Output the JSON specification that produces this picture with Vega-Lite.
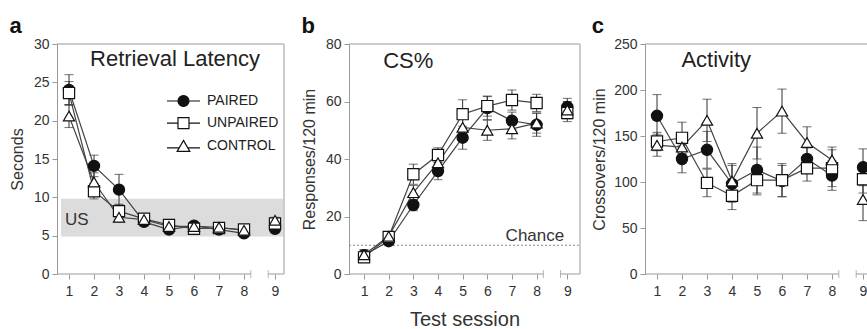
{
  "$schema": "https://vega.github.io/schema/vega-lite/v6.json",
  "padding": {"left": 9, "top": 15, "right": 0, "bottom": 0},
  "background": "white",
  "bounds": "flush",
  "spacing": 65,
  "config": {
    "font": "Liberation Sans",
    "view": {"stroke": null},
    "axis": {"grid": false, "domainColor": "#999", "tickColor": "#999", "labelColor": "#333", "titleColor": "#333", "labelFontSize": 14, "titleFontSize": 16, "titleFontWeight": "normal", "tickSize": 5, "labelOverlap": false, "tickCount": 20, "format": "d"},
    "title": {"fontSize": 22, "fontWeight": "bold", "anchor": "start", "frame": "bounds", "color": "#111", "offset": -1}
  },
  "datasets": {
    "groups": [{"group": "PAIRED"}, {"group": "UNPAIRED"}, {"group": "CONTROL"}],
    "latency": [
      {"session": 1, "group": "PAIRED", "mean": 24.0, "sem": 2.0},
      {"session": 2, "group": "PAIRED", "mean": 14.1, "sem": 1.4},
      {"session": 3, "group": "PAIRED", "mean": 11.0, "sem": 2.0},
      {"session": 4, "group": "PAIRED", "mean": 6.8, "sem": 0.5},
      {"session": 5, "group": "PAIRED", "mean": 5.8, "sem": 0.4},
      {"session": 6, "group": "PAIRED", "mean": 6.3, "sem": 0.4},
      {"session": 7, "group": "PAIRED", "mean": 5.8, "sem": 0.4},
      {"session": 8, "group": "PAIRED", "mean": 5.3, "sem": 0.4},
      {"session": 9, "group": "PAIRED", "mean": 5.9, "sem": 0.4},
      {"session": 1, "group": "UNPAIRED", "mean": 23.6, "sem": 1.5},
      {"session": 2, "group": "UNPAIRED", "mean": 10.8, "sem": 1.0},
      {"session": 3, "group": "UNPAIRED", "mean": 8.2, "sem": 0.9},
      {"session": 4, "group": "UNPAIRED", "mean": 7.2, "sem": 0.4},
      {"session": 5, "group": "UNPAIRED", "mean": 6.4, "sem": 0.3},
      {"session": 6, "group": "UNPAIRED", "mean": 5.9, "sem": 0.3},
      {"session": 7, "group": "UNPAIRED", "mean": 6.0, "sem": 0.3},
      {"session": 8, "group": "UNPAIRED", "mean": 5.8, "sem": 0.3},
      {"session": 9, "group": "UNPAIRED", "mean": 6.6, "sem": 0.4},
      {"session": 1, "group": "CONTROL", "mean": 20.6, "sem": 1.5},
      {"session": 2, "group": "CONTROL", "mean": 12.0, "sem": 1.2},
      {"session": 3, "group": "CONTROL", "mean": 7.4, "sem": 0.6},
      {"session": 4, "group": "CONTROL", "mean": 7.1, "sem": 0.4},
      {"session": 5, "group": "CONTROL", "mean": 6.2, "sem": 0.3},
      {"session": 6, "group": "CONTROL", "mean": 6.2, "sem": 0.3},
      {"session": 7, "group": "CONTROL", "mean": 6.1, "sem": 0.3},
      {"session": 8, "group": "CONTROL", "mean": 5.7, "sem": 0.3},
      {"session": 9, "group": "CONTROL", "mean": 7.0, "sem": 0.4}
    ],
    "cs": [
      {"session": 1, "group": "PAIRED", "mean": 6.5, "sem": 2.0},
      {"session": 2, "group": "PAIRED", "mean": 11.4, "sem": 1.0},
      {"session": 3, "group": "PAIRED", "mean": 24.0, "sem": 2.0},
      {"session": 4, "group": "PAIRED", "mean": 35.8, "sem": 3.0},
      {"session": 5, "group": "PAIRED", "mean": 47.4, "sem": 4.0},
      {"session": 6, "group": "PAIRED", "mean": 57.7, "sem": 4.0},
      {"session": 7, "group": "PAIRED", "mean": 53.3, "sem": 3.0},
      {"session": 8, "group": "PAIRED", "mean": 51.9, "sem": 4.0},
      {"session": 9, "group": "PAIRED", "mean": 58.1, "sem": 3.0},
      {"session": 1, "group": "UNPAIRED", "mean": 5.8, "sem": 1.5},
      {"session": 2, "group": "UNPAIRED", "mean": 12.9, "sem": 1.0},
      {"session": 3, "group": "UNPAIRED", "mean": 34.7, "sem": 3.5},
      {"session": 4, "group": "UNPAIRED", "mean": 41.4, "sem": 2.5},
      {"session": 5, "group": "UNPAIRED", "mean": 55.6, "sem": 5.0},
      {"session": 6, "group": "UNPAIRED", "mean": 58.4, "sem": 3.5},
      {"session": 7, "group": "UNPAIRED", "mean": 60.5, "sem": 3.5},
      {"session": 8, "group": "UNPAIRED", "mean": 59.5, "sem": 3.0},
      {"session": 9, "group": "UNPAIRED", "mean": 56.0, "sem": 3.0},
      {"session": 1, "group": "CONTROL", "mean": 6.7, "sem": 1.5},
      {"session": 2, "group": "CONTROL", "mean": 13.1, "sem": 1.0},
      {"session": 3, "group": "CONTROL", "mean": 28.3, "sem": 2.5},
      {"session": 4, "group": "CONTROL", "mean": 38.7, "sem": 2.5},
      {"session": 5, "group": "CONTROL", "mean": 51.0, "sem": 3.0},
      {"session": 6, "group": "CONTROL", "mean": 50.0, "sem": 3.5},
      {"session": 7, "group": "CONTROL", "mean": 50.5, "sem": 3.5},
      {"session": 8, "group": "CONTROL", "mean": 52.5, "sem": 3.5},
      {"session": 9, "group": "CONTROL", "mean": 57.0, "sem": 3.0}
    ],
    "activity": [
      {"session": 1, "group": "PAIRED", "mean": 172, "sem": 23},
      {"session": 2, "group": "PAIRED", "mean": 125, "sem": 15},
      {"session": 3, "group": "PAIRED", "mean": 135, "sem": 20},
      {"session": 4, "group": "PAIRED", "mean": 98, "sem": 20},
      {"session": 5, "group": "PAIRED", "mean": 113, "sem": 25},
      {"session": 6, "group": "PAIRED", "mean": 101, "sem": 17},
      {"session": 7, "group": "PAIRED", "mean": 125, "sem": 12},
      {"session": 8, "group": "PAIRED", "mean": 107, "sem": 16},
      {"session": 9, "group": "PAIRED", "mean": 116, "sem": 20},
      {"session": 1, "group": "UNPAIRED", "mean": 144, "sem": 10},
      {"session": 2, "group": "UNPAIRED", "mean": 148, "sem": 17},
      {"session": 3, "group": "UNPAIRED", "mean": 99, "sem": 15},
      {"session": 4, "group": "UNPAIRED", "mean": 85, "sem": 15},
      {"session": 5, "group": "UNPAIRED", "mean": 102, "sem": 16},
      {"session": 6, "group": "UNPAIRED", "mean": 102, "sem": 18},
      {"session": 7, "group": "UNPAIRED", "mean": 115, "sem": 14},
      {"session": 8, "group": "UNPAIRED", "mean": 115, "sem": 20},
      {"session": 9, "group": "UNPAIRED", "mean": 103, "sem": 15},
      {"session": 1, "group": "CONTROL", "mean": 140, "sem": 12},
      {"session": 2, "group": "CONTROL", "mean": 138, "sem": 8},
      {"session": 3, "group": "CONTROL", "mean": 167, "sem": 23},
      {"session": 4, "group": "CONTROL", "mean": 101, "sem": 19},
      {"session": 5, "group": "CONTROL", "mean": 153, "sem": 28},
      {"session": 6, "group": "CONTROL", "mean": 177, "sem": 24},
      {"session": 7, "group": "CONTROL", "mean": 143, "sem": 17},
      {"session": 8, "group": "CONTROL", "mean": 124, "sem": 14},
      {"session": 9, "group": "CONTROL", "mean": 81, "sem": 23}
    ]
  },
  "hconcat": [
    {
      "width": 227, "height": 230,
      "title": {"text": "a"},
      "data": {"name": "latency"},
      "resolve": {"scale": {"shape": "independent", "fill": "independent"}},
      "layer": [
        {"data": {"values": [{}]}, "mark": {"type": "rect", "color": "#dcdcdc"},
         "encoding": {"x": {"datum": 0.68, "type": "quantitative", "scale": {"domain": [0.52, 8, 9, 9.36], "range": [0, 187, 218, 227], "nice": false, "zero": false}},
                      "x2": {"datum": 9.32},
                      "y": {"datum": 4.9, "type": "quantitative", "scale": {"domain": [0, 30], "nice": false, "zero": false}},
                      "y2": {"datum": 9.8}}},
        {"data": {"values": [{}]}, "mark": {"type": "rule", "color": "#999", "strokeWidth": 1},
         "encoding": {"x": {"datum": 0.52, "type": "quantitative", "scale": {"domain": [0.52, 8, 9, 9.36], "range": [0, 187, 218, 227], "nice": false, "zero": false}},
                      "x2": {"datum": 9.36},
                      "y": {"datum": 30, "type": "quantitative", "scale": {"domain": [0, 30], "nice": false, "zero": false}}}},
        {"data": {"values": [{}]}, "mark": {"type": "rule", "color": "#999", "strokeWidth": 1},
         "encoding": {"x": {"datum": 9.36, "type": "quantitative", "scale": {"domain": [0.52, 8, 9, 9.36], "range": [0, 187, 218, 227], "nice": false, "zero": false}},
                      "y": {"datum": 0, "type": "quantitative", "scale": {"domain": [0, 30], "nice": false, "zero": false}},
                      "y2": {"datum": 30}}},
        {"data": {"values": [{}]}, "mark": {"type": "rule", "color": "#999", "strokeWidth": 1},
         "encoding": {"x": {"datum": 0.52, "type": "quantitative", "scale": {"domain": [0.52, 8, 9, 9.36], "range": [0, 187, 218, 227], "nice": false, "zero": false}},
                      "x2": {"datum": 8.22},
                      "y": {"datum": 0, "type": "quantitative", "scale": {"domain": [0, 30], "nice": false, "zero": false}}}},
        {"data": {"values": [{}]}, "mark": {"type": "rule", "color": "#999", "strokeWidth": 1},
         "encoding": {"x": {"datum": 8.78, "type": "quantitative", "scale": {"domain": [0.52, 8, 9, 9.36], "range": [0, 187, 218, 227], "nice": false, "zero": false}},
                      "x2": {"datum": 9.36},
                      "y": {"datum": 0, "type": "quantitative", "scale": {"domain": [0, 30], "nice": false, "zero": false}}}},
        {"data": {"values": [{}]}, "mark": {"type": "tick", "orient": "vertical", "size": 8, "thickness": 1, "color": "#999"},
         "encoding": {"x": {"datum": 8.22, "type": "quantitative", "scale": {"domain": [0.52, 8, 9, 9.36], "range": [0, 187, 218, 227], "nice": false, "zero": false}},
                      "y": {"datum": 0, "type": "quantitative", "scale": {"domain": [0, 30], "nice": false, "zero": false}}}},
        {"data": {"values": [{}]}, "mark": {"type": "tick", "orient": "vertical", "size": 8, "thickness": 1, "color": "#999"},
         "encoding": {"x": {"datum": 8.78, "type": "quantitative", "scale": {"domain": [0.52, 8, 9, 9.36], "range": [0, 187, 218, 227], "nice": false, "zero": false}},
                      "y": {"datum": 0, "type": "quantitative", "scale": {"domain": [0, 30], "nice": false, "zero": false}}}},
        {"mark": {"type": "errorbar", "ticks": {"size": 9}, "color": "#333"},
         "encoding": {"x": {"field": "session", "type": "quantitative", "title": null, "scale": {"domain": [0.52, 8, 9, 9.36], "range": [0, 187, 218, 227], "nice": false, "zero": false}},
                      "y": {"field": "mean", "type": "quantitative", "title": "Seconds", "scale": {"domain": [0, 30], "nice": false, "zero": false}},
                      "yError": {"field": "sem"}, "detail": {"field": "group"}}},
        {"transform": [{"filter": "datum.session <= 8"}],
         "mark": {"type": "line", "color": "#444", "strokeWidth": 1.2},
         "encoding": {"x": {"field": "session", "type": "quantitative", "title": null, "scale": {"domain": [0.52, 8, 9, 9.36], "range": [0, 187, 218, 227], "nice": false, "zero": false}},
                      "y": {"field": "mean", "type": "quantitative", "title": "Seconds", "scale": {"domain": [0, 30], "nice": false, "zero": false}},
                      "detail": {"field": "group"}}},
        {"mark": {"type": "point", "filled": true, "size": 125, "stroke": "#111", "strokeWidth": 1.2, "opacity": 1},
         "encoding": {"x": {"field": "session", "type": "quantitative", "title": null, "scale": {"domain": [0.52, 8, 9, 9.36], "range": [0, 187, 218, 227], "nice": false, "zero": false},
                            "axis": {"values": [1, 2, 3, 4, 5, 6, 7, 8, 9], "tickCount": 20, "format": "d", "domain": false, "labelPadding": 5, "labelFontSize": 14, "labelOverlap": false, "labelBound": false, "labelFlush": false}},
                      "y": {"field": "mean", "type": "quantitative", "title": "Seconds", "scale": {"domain": [0, 30], "nice": false, "zero": false},
                            "axis": {"values": [0, 5, 10, 15, 20, 25, 30], "tickCount": 20, "format": "d", "titlePadding": 8, "labelPadding": 3}},
                      "shape": {"field": "group", "type": "nominal", "scale": {"domain": ["PAIRED", "UNPAIRED", "CONTROL"], "range": ["circle", "square", "triangle-up"]}, "legend": null},
                      "fill": {"field": "group", "type": "nominal", "scale": {"domain": ["PAIRED", "UNPAIRED", "CONTROL"], "range": ["#111", "#fff", "#fff"]}, "legend": null}}},
        {"data": {"values": [{}]}, "mark": {"type": "text", "fontSize": 22, "align": "center", "baseline": "alphabetic", "color": "#222"},
         "encoding": {"x": {"datum": 5.24, "type": "quantitative", "scale": {"domain": [0.52, 8, 9, 9.36], "range": [0, 187, 218, 227], "nice": false, "zero": false}},
                      "y": {"datum": 27.1, "type": "quantitative", "scale": {"domain": [0, 30], "nice": false, "zero": false}},
                      "text": {"value": "Retrieval Latency"}}},
        {"data": {"values": [{}]}, "mark": {"type": "text", "fontSize": 17, "align": "left", "baseline": "alphabetic", "color": "#333"},
         "encoding": {"x": {"datum": 0.84, "type": "quantitative", "scale": {"domain": [0.52, 8, 9, 9.36], "range": [0, 187, 218, 227], "nice": false, "zero": false}},
                      "y": {"datum": 6.4, "type": "quantitative", "scale": {"domain": [0, 30], "nice": false, "zero": false}},
                      "text": {"value": "US"}}},
        {"data": {"name": "groups"}, "transform": [{"filter": "false"}],
         "mark": {"type": "point", "filled": true},
         "encoding": {
           "shape": {"field": "group", "type": "nominal",
                     "scale": {"domain": ["PAIRED", "UNPAIRED", "CONTROL"], "range": [
                       "M-3,0L-1,0M1,0L3,0M-1,0A1,1,0,1,1,1,0A1,1,0,1,1,-1,0Z",
                       "M-3,0L-1,0M1,0L3,0M-1,-1L1,-1L1,1L-1,1Z",
                       "M-3,0.25L-0.8,0.25M0.8,0.25L3,0.25M0,-1.1L1.15,0.9L-1.15,0.9Z"]},
                     "legend": {"orient": "none", "legendX": 119.5, "legendY": 50, "title": null, "symbolSize": 121, "labelFontSize": 14, "labelColor": "#222", "labelOffset": 16.5, "rowPadding": 6.2, "padding": 0, "symbolOpacity": 1,
                                "encode": {"symbols": {"update": {"stroke": {"value": "#111"}, "strokeWidth": {"value": 1.2}, "opacity": {"value": 1}}}}}},
           "fill": {"field": "group", "type": "nominal",
                    "scale": {"domain": ["PAIRED", "UNPAIRED", "CONTROL"], "range": ["#111", "#fff", "#fff"]},
                    "legend": {"orient": "none", "legendX": 119.5, "legendY": 50, "title": null, "symbolSize": 121, "labelFontSize": 14, "labelColor": "#222", "labelOffset": 16.5, "rowPadding": 6.2, "padding": 0, "symbolOpacity": 1,
                               "encode": {"symbols": {"update": {"stroke": {"value": "#111"}, "strokeWidth": {"value": 1.2}, "opacity": {"value": 1}}}}}}}}
      ]
    },
    {
      "width": 231, "height": 230,
      "title": {"text": "b"},
      "data": {"name": "cs"},
      "layer": [
        {"data": {"values": [{}]}, "mark": {"type": "rule", "color": "#888", "strokeWidth": 1, "strokeDash": [2, 2]},
         "encoding": {"x": {"datum": 0.39, "type": "quantitative", "scale": {"domain": [0.39, 8, 9, 9.51], "range": [0, 187.6, 218.3, 231], "nice": false, "zero": false}},
                      "x2": {"datum": 9.51},
                      "y": {"datum": 10, "type": "quantitative", "scale": {"domain": [0, 80], "nice": false, "zero": false}}}},
        {"data": {"values": [{}]}, "mark": {"type": "rule", "color": "#999", "strokeWidth": 1},
         "encoding": {"x": {"datum": 0.39, "type": "quantitative", "scale": {"domain": [0.39, 8, 9, 9.51], "range": [0, 187.6, 218.3, 231], "nice": false, "zero": false}},
                      "x2": {"datum": 9.51},
                      "y": {"datum": 80, "type": "quantitative", "scale": {"domain": [0, 80], "nice": false, "zero": false}}}},
        {"data": {"values": [{}]}, "mark": {"type": "rule", "color": "#999", "strokeWidth": 1},
         "encoding": {"x": {"datum": 9.51, "type": "quantitative", "scale": {"domain": [0.39, 8, 9, 9.51], "range": [0, 187.6, 218.3, 231], "nice": false, "zero": false}},
                      "y": {"datum": 0, "type": "quantitative", "scale": {"domain": [0, 80], "nice": false, "zero": false}},
                      "y2": {"datum": 80}}},
        {"data": {"values": [{}]}, "mark": {"type": "rule", "color": "#999", "strokeWidth": 1},
         "encoding": {"x": {"datum": 0.39, "type": "quantitative", "scale": {"domain": [0.39, 8, 9, 9.51], "range": [0, 187.6, 218.3, 231], "nice": false, "zero": false}},
                      "x2": {"datum": 8.22},
                      "y": {"datum": 0, "type": "quantitative", "scale": {"domain": [0, 80], "nice": false, "zero": false}}}},
        {"data": {"values": [{}]}, "mark": {"type": "rule", "color": "#999", "strokeWidth": 1},
         "encoding": {"x": {"datum": 8.78, "type": "quantitative", "scale": {"domain": [0.39, 8, 9, 9.51], "range": [0, 187.6, 218.3, 231], "nice": false, "zero": false}},
                      "x2": {"datum": 9.51},
                      "y": {"datum": 0, "type": "quantitative", "scale": {"domain": [0, 80], "nice": false, "zero": false}}}},
        {"data": {"values": [{}]}, "mark": {"type": "tick", "orient": "vertical", "size": 8, "thickness": 1, "color": "#999"},
         "encoding": {"x": {"datum": 8.22, "type": "quantitative", "scale": {"domain": [0.39, 8, 9, 9.51], "range": [0, 187.6, 218.3, 231], "nice": false, "zero": false}},
                      "y": {"datum": 0, "type": "quantitative", "scale": {"domain": [0, 80], "nice": false, "zero": false}}}},
        {"data": {"values": [{}]}, "mark": {"type": "tick", "orient": "vertical", "size": 8, "thickness": 1, "color": "#999"},
         "encoding": {"x": {"datum": 8.78, "type": "quantitative", "scale": {"domain": [0.39, 8, 9, 9.51], "range": [0, 187.6, 218.3, 231], "nice": false, "zero": false}},
                      "y": {"datum": 0, "type": "quantitative", "scale": {"domain": [0, 80], "nice": false, "zero": false}}}},
        {"mark": {"type": "errorbar", "ticks": {"size": 9}, "color": "#333"},
         "encoding": {"x": {"field": "session", "type": "quantitative", "title": "Test session", "scale": {"domain": [0.39, 8, 9, 9.51], "range": [0, 187.6, 218.3, 231], "nice": false, "zero": false}},
                      "y": {"field": "mean", "type": "quantitative", "title": "Responses/120 min", "scale": {"domain": [0, 80], "nice": false, "zero": false}},
                      "yError": {"field": "sem"}, "detail": {"field": "group"}}},
        {"transform": [{"filter": "datum.session <= 8"}],
         "mark": {"type": "line", "color": "#444", "strokeWidth": 1.2},
         "encoding": {"x": {"field": "session", "type": "quantitative", "title": "Test session", "scale": {"domain": [0.39, 8, 9, 9.51], "range": [0, 187.6, 218.3, 231], "nice": false, "zero": false}},
                      "y": {"field": "mean", "type": "quantitative", "title": "Responses/120 min", "scale": {"domain": [0, 80], "nice": false, "zero": false}},
                      "detail": {"field": "group"}}},
        {"mark": {"type": "point", "filled": true, "size": 125, "stroke": "#111", "strokeWidth": 1.2, "opacity": 1},
         "encoding": {"x": {"field": "session", "type": "quantitative", "title": "Test session", "scale": {"domain": [0.39, 8, 9, 9.51], "range": [0, 187.6, 218.3, 231], "nice": false, "zero": false},
                            "axis": {"values": [1, 2, 3, 4, 5, 6, 7, 8, 9], "tickCount": 20, "format": "d", "domain": false, "labelPadding": 5, "labelFontSize": 14, "labelOverlap": false, "labelBound": false, "labelFlush": false, "titleFontSize": 20, "titlePadding": 11}},
                      "y": {"field": "mean", "type": "quantitative", "title": "Responses/120 min", "scale": {"domain": [0, 80], "nice": false, "zero": false},
                            "axis": {"values": [0, 20, 40, 60, 80], "tickCount": 20, "format": "d", "titlePadding": 8, "labelPadding": 3}},
                      "shape": {"field": "group", "type": "nominal", "scale": {"domain": ["PAIRED", "UNPAIRED", "CONTROL"], "range": ["circle", "square", "triangle-up"]}, "legend": null},
                      "fill": {"field": "group", "type": "nominal", "scale": {"domain": ["PAIRED", "UNPAIRED", "CONTROL"], "range": ["#111", "#fff", "#fff"]}, "legend": null}}},
        {"data": {"values": [{}]}, "mark": {"type": "text", "fontSize": 22, "align": "center", "baseline": "alphabetic", "color": "#222"},
         "encoding": {"x": {"datum": 2.795, "type": "quantitative", "scale": {"domain": [0.39, 8, 9, 9.51], "range": [0, 187.6, 218.3, 231], "nice": false, "zero": false}},
                      "y": {"datum": 71.8, "type": "quantitative", "scale": {"domain": [0, 80], "nice": false, "zero": false}},
                      "text": {"value": "CS%"}}},
        {"data": {"values": [{}]}, "mark": {"type": "text", "fontSize": 17, "align": "right", "baseline": "alphabetic", "color": "#333"},
         "encoding": {"x": {"datum": 8.9, "type": "quantitative", "scale": {"domain": [0.39, 8, 9, 9.51], "range": [0, 187.6, 218.3, 231], "nice": false, "zero": false}},
                      "y": {"datum": 11.5, "type": "quantitative", "scale": {"domain": [0, 80], "nice": false, "zero": false}},
                      "text": {"value": "Chance"}}}
      ]
    },
    {
      "width": 227, "height": 230,
      "title": {"text": "c"},
      "data": {"name": "activity"},
      "layer": [
        {"data": {"values": [{}]}, "mark": {"type": "rule", "color": "#999", "strokeWidth": 1},
         "encoding": {"x": {"datum": 0.52, "type": "quantitative", "scale": {"domain": [0.52, 8, 9, 9.36], "range": [0, 187, 218, 227], "nice": false, "zero": false}},
                      "x2": {"datum": 9.36},
                      "y": {"datum": 250, "type": "quantitative", "scale": {"domain": [0, 250], "nice": false, "zero": false}}}},
        {"data": {"values": [{}]}, "mark": {"type": "rule", "color": "#999", "strokeWidth": 1},
         "encoding": {"x": {"datum": 0.52, "type": "quantitative", "scale": {"domain": [0.52, 8, 9, 9.36], "range": [0, 187, 218, 227], "nice": false, "zero": false}},
                      "x2": {"datum": 8.22},
                      "y": {"datum": 0, "type": "quantitative", "scale": {"domain": [0, 250], "nice": false, "zero": false}}}},
        {"data": {"values": [{}]}, "mark": {"type": "rule", "color": "#999", "strokeWidth": 1},
         "encoding": {"x": {"datum": 8.78, "type": "quantitative", "scale": {"domain": [0.52, 8, 9, 9.36], "range": [0, 187, 218, 227], "nice": false, "zero": false}},
                      "x2": {"datum": 9.36},
                      "y": {"datum": 0, "type": "quantitative", "scale": {"domain": [0, 250], "nice": false, "zero": false}}}},
        {"data": {"values": [{}]}, "mark": {"type": "tick", "orient": "vertical", "size": 8, "thickness": 1, "color": "#999"},
         "encoding": {"x": {"datum": 8.22, "type": "quantitative", "scale": {"domain": [0.52, 8, 9, 9.36], "range": [0, 187, 218, 227], "nice": false, "zero": false}},
                      "y": {"datum": 0, "type": "quantitative", "scale": {"domain": [0, 250], "nice": false, "zero": false}}}},
        {"data": {"values": [{}]}, "mark": {"type": "tick", "orient": "vertical", "size": 8, "thickness": 1, "color": "#999"},
         "encoding": {"x": {"datum": 8.78, "type": "quantitative", "scale": {"domain": [0.52, 8, 9, 9.36], "range": [0, 187, 218, 227], "nice": false, "zero": false}},
                      "y": {"datum": 0, "type": "quantitative", "scale": {"domain": [0, 250], "nice": false, "zero": false}}}},
        {"mark": {"type": "errorbar", "ticks": {"size": 9}, "color": "#333"},
         "encoding": {"x": {"field": "session", "type": "quantitative", "title": null, "scale": {"domain": [0.52, 8, 9, 9.36], "range": [0, 187, 218, 227], "nice": false, "zero": false}},
                      "y": {"field": "mean", "type": "quantitative", "title": "Crossovers/120 min", "scale": {"domain": [0, 250], "nice": false, "zero": false}},
                      "yError": {"field": "sem"}, "detail": {"field": "group"}}},
        {"transform": [{"filter": "datum.session <= 8"}],
         "mark": {"type": "line", "color": "#444", "strokeWidth": 1.2},
         "encoding": {"x": {"field": "session", "type": "quantitative", "title": null, "scale": {"domain": [0.52, 8, 9, 9.36], "range": [0, 187, 218, 227], "nice": false, "zero": false}},
                      "y": {"field": "mean", "type": "quantitative", "title": "Crossovers/120 min", "scale": {"domain": [0, 250], "nice": false, "zero": false}},
                      "detail": {"field": "group"}}},
        {"mark": {"type": "point", "filled": true, "size": 125, "stroke": "#111", "strokeWidth": 1.2, "opacity": 1},
         "encoding": {"x": {"field": "session", "type": "quantitative", "title": null, "scale": {"domain": [0.52, 8, 9, 9.36], "range": [0, 187, 218, 227], "nice": false, "zero": false},
                            "axis": {"values": [1, 2, 3, 4, 5, 6, 7, 8, 9], "tickCount": 20, "format": "d", "domain": false, "labelPadding": 5, "labelFontSize": 14, "labelOverlap": false, "labelBound": false, "labelFlush": false}},
                      "y": {"field": "mean", "type": "quantitative", "title": "Crossovers/120 min", "scale": {"domain": [0, 250], "nice": false, "zero": false},
                            "axis": {"values": [0, 50, 100, 150, 200, 250], "tickCount": 20, "format": "d", "titlePadding": 6, "labelPadding": 3}},
                      "shape": {"field": "group", "type": "nominal", "scale": {"domain": ["PAIRED", "UNPAIRED", "CONTROL"], "range": ["circle", "square", "triangle-up"]}, "legend": null},
                      "fill": {"field": "group", "type": "nominal", "scale": {"domain": ["PAIRED", "UNPAIRED", "CONTROL"], "range": ["#111", "#fff", "#fff"]}, "legend": null}}},
        {"data": {"values": [{}]}, "mark": {"type": "text", "fontSize": 22, "align": "center", "baseline": "alphabetic", "color": "#222"},
         "encoding": {"x": {"datum": 3.37, "type": "quantitative", "scale": {"domain": [0.52, 8, 9, 9.36], "range": [0, 187, 218, 227], "nice": false, "zero": false}},
                      "y": {"datum": 225, "type": "quantitative", "scale": {"domain": [0, 250], "nice": false, "zero": false}},
                      "text": {"value": "Activity"}}}
      ]
    }
  ]
}
